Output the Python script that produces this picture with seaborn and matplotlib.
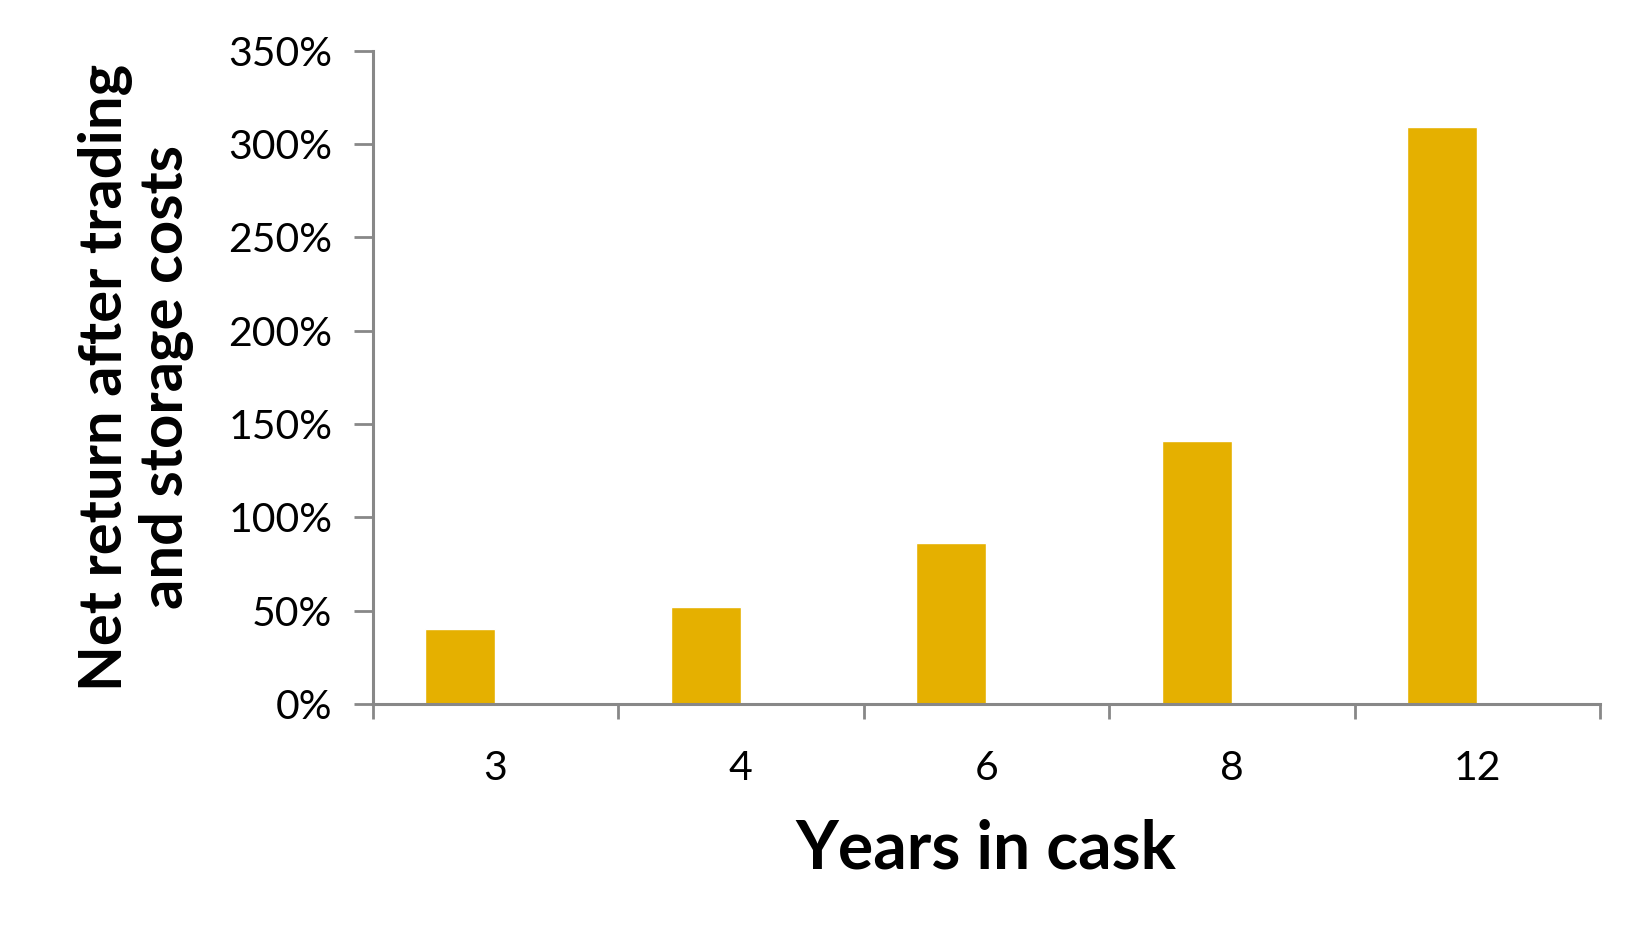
import matplotlib
matplotlib.use("Agg")
import matplotlib.pyplot as plt
import seaborn as sns
import pandas as pd
import numpy as np
from matplotlib.ticker import FuncFormatter, FixedLocator

years = ["3", "4", "6", "8", "12"]
net_return = [40, 52, 86, 141, 309]
y_ticks = [0, 50, 100, 150, 200, 250, 300, 350]
series = ["Net return", "_empty"]

sns.set_theme(style="white")
plt.rcParams['font.family'] = ['Lato', 'DejaVu Sans']

df = pd.DataFrame({
    "years": years * 2,
    "ret": net_return + [np.nan] * len(years),
    "series": [series[0]] * len(years) + [series[1]] * len(years),
})

fig = plt.figure(figsize=(16.5, 9.5), dpi=100)
ax = fig.add_axes([0.2258, 0.259, 0.9697 - 0.2258, 0.9468 - 0.259])

sns.barplot(data=df, x="years", y="ret", hue="series", order=years,
            hue_order=series, palette=["#E5B000", "#E5B000"],
            saturation=1, width=0.57, ax=ax, legend=False)

ax.set_xlim(-0.5, len(years) - 0.5)
ax.set_ylim(0, 350)
ax.set_yticks(y_ticks)
ax.yaxis.set_major_formatter(FuncFormatter(lambda v, p: f"{v:.0f}%"))

for s in ["top", "right"]:
    ax.spines[s].set_visible(False)
for s in ["left", "bottom"]:
    ax.spines[s].set_color("#888888")
    ax.spines[s].set_linewidth(2.2)

ax.tick_params(axis="y", which="major", direction="out", length=14, width=2,
               color="#888888", labelsize=29.5, labelcolor="black", pad=15, left=True)
ax.tick_params(axis="x", which="major", length=0, labelsize=29.5,
               labelcolor="black", pad=33)
ax.xaxis.set_minor_locator(FixedLocator([i - 0.5 for i in range(len(years) + 1)]))
ax.tick_params(axis="x", which="minor", direction="out", length=11, width=2,
               color="#888888", bottom=True)

ax.set_xlabel("Years in cask", fontsize=47.5, fontweight="bold", color="black", va="center")
ax.xaxis.set_label_coords(0.5, -0.2234)
ax.set_ylabel("Net return after trading\nand storage costs", fontsize=43,
              fontweight="bold", color="black", va="center", linespacing=1.12)
ax.yaxis.set_label_coords(-0.1927, 0.5)

fig.savefig("out.png", dpi=100, facecolor="white")
